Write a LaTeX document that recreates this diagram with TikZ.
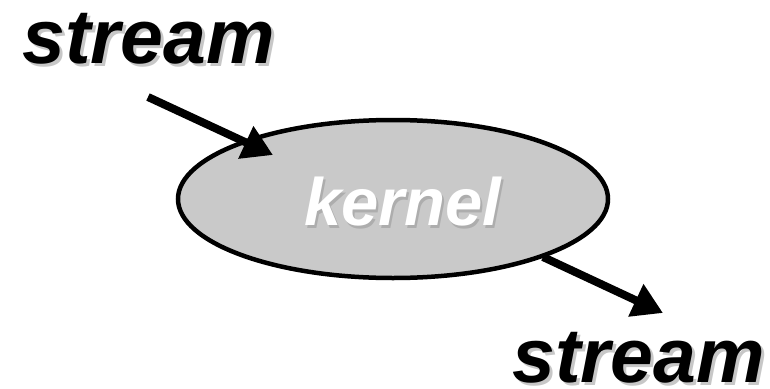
\documentclass[tikz,border=0pt]{standalone}
\usepackage{fontspec}
\setmainfont{Liberation Sans}
\usetikzlibrary{arrows.meta,shapes.geometric}
\definecolor{kfill}{HTML}{C9C9C9}
\tikzset{
  lbl/.style={font=\fontsize{77}{77}\selectfont\bfseries\itshape, inner sep=0pt, text depth=0pt, anchor=base west},
  shad/.style={text=black!22},
  arr/.style={line width=8pt, -{Triangle[length=30pt,width=34pt]}},
}
\begin{document}
\begin{tikzpicture}[x=1pt,y=-1pt]
\useasboundingbox (0,0) rectangle (770,388);
% ellipse
\node[ellipse, draw=black, line width=4.5pt, fill=kfill, minimum width=430pt, minimum height=158pt, inner sep=0pt] (kern) at (393,199) {};
\node[lbl, font=\fontsize{67}{67}\selectfont\bfseries\itshape, text=black!32] (kshad) at (306,228) {kernel};
\node[lbl, font=\fontsize{67}{67}\selectfont\bfseries\itshape, text=white] (ktext) at (304,225) {kernel};
% labels
\node[lbl, shad] (s1shad) at (25,66) {stream};
\node[lbl] (s1) at (22,63) {stream};
\node[lbl, shad] (s2shad) at (515,385) {stream};
\node[lbl] (s2) at (512,382) {stream};
% arrows
\coordinate (a1s) at (148,97);
\coordinate (a1e) at (273,155);
\coordinate (a2s) at (543,257);
\coordinate (a2e) at (663,313);
\draw[arr] (a1s) -- (a1e);
\draw[arr] (a2s) -- (a2e);
\end{tikzpicture}
\end{document}
